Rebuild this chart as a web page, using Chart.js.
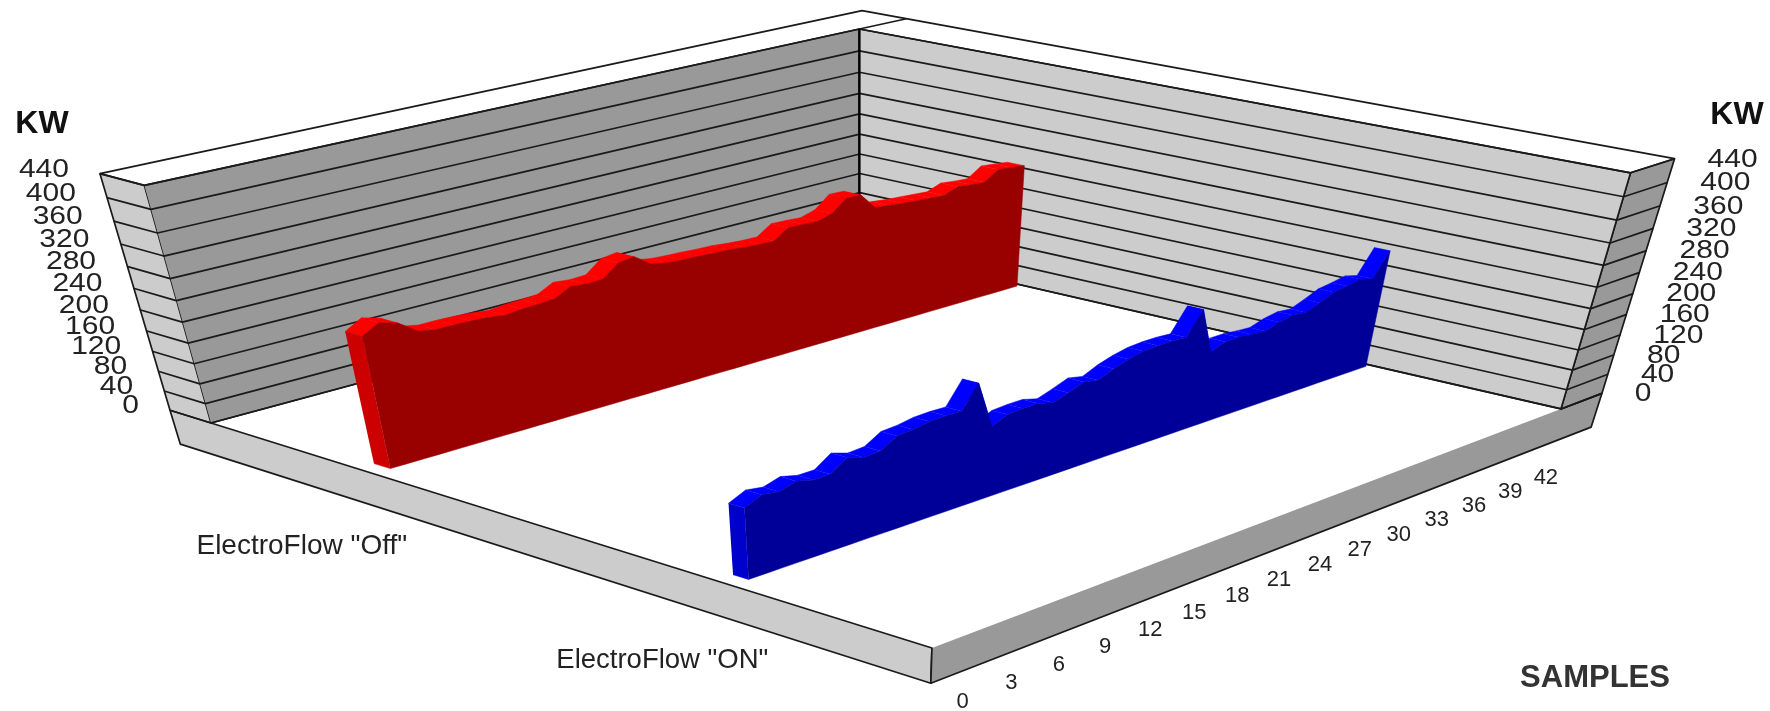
<!DOCTYPE html>
<html>
<head>
<meta charset="utf-8">
<title>ElectroFlow KW</title>
<script src="https://cdn.jsdelivr.net/npm/chart.js@4/dist/chart.umd.js"></script>
<style>
  html, body { margin: 0; padding: 0; background: #fff; }
  canvas { display: block; }
</style>
</head>
<body>
<canvas id="myChart" width="1770" height="711"></canvas>
<script>
const samples = [0,1,2,3,4,5,6,7,8,9,10,11,12,13,14,15,16,17,18,19,20,21,22,23,24,25,26,27,28,29,30,31,32,33,34,35,36,37,38,39,40,41,42,43];
const kwOff = [251,267,258,235,229,229,228,226,222,225,226,228,242,239,240,262,266,245,239,237,236,234,233,230,228,227,245,244,242,250,272,271,240,237,234,232,230,228,238,235,233,251,248,245];
const kwOn = [135,149,144,153,145,145,166,156,158,176,178,183,184,183,225,135,148,150,150,142,152,163,157,170,179,185,187,187,185,229,140,151,151,148,146,155,160,157,168,180,184,189,182,228];
const kwTicks = [0,40,80,120,160,200,240,280,320,360,400,440];
const sampleTicks = [0,3,6,9,12,15,18,21,24,27,30,33,36,39,42];
const seriesNames = ['ElectroFlow "Off"', 'ElectroFlow "ON"'];

// camera, fitted on the corners of the box: origin + u*U + v*V + h*H, homogeneous
const O = [211, 423, 1];
const U = [793, -133.5, 0.1675];
const V = [576.6, 124.6, -0.1549];
const H = [-80, -259];
const HwX = -0.0923;   // x and y need a slightly different height perspective
const HwY = -0.115;

const wallV = -0.068;   // back of left wall
const wallU = 1.079;    // back of right wall
const slabH = -0.165;   // underside of floor
const ribbonFoot = -0.01;

function project(u, v, h) {
    const w = O[2] + u * U[2] + v * V[2];
    return {
        x: (O[0] + u * U[0] + v * V[0] + h * H[0]) / (w + h * HwX),
        y: (O[1] + u * U[1] + v * V[1] + h * H[1]) / (w + h * HwY)
    };
}
const sampleU = s => 0.027 + 0.973 * s / samples[samples.length - 1];
const kwH = kw => kw / 440;

const datasets = [];
function shape(points, fill, line, width) {
    datasets.push({
        data: points.map(p => project(p[0], p[1], p[2])),
        showLine: true,
        fill: fill ? 'shape' : false,
        backgroundColor: fill || 'transparent',
        borderColor: line || fill,
        borderWidth: width === undefined ? 1 : width,
        borderJoinStyle: 'round',
        pointRadius: 0,
        pointHoverRadius: 0,
        tension: 0,
        clip: false,
        order: -datasets.length
    });
}

const LINE = '#1a1a1a';
const LW = 1.7;

// floor slab
shape([[0, wallV, 0], [0, wallV, slabH], [0, 1, slabH], [0, 1, 0], [0, 0, 0]], '#cccccc', LINE, LW);
shape([[0, 1, 0], [0, 1, slabH], [wallU, 1, slabH], [wallU, 1, 0], [1, 1, 0]], '#999999', LINE, LW);

// wall end caps
shape([[0, wallV, 1], [0, wallV, 0], [0, 0, 0], [0, 0, 1]], '#cccccc', LINE, LW);
shape([[wallU, 1, 1], [wallU, 1, 0], [1, 1, 0], [1, 1, 1]], '#999999', LINE, LW);

// inner wall faces
shape([[0, 0, 0], [1, 0, 0], [1, 0, 1], [0, 0, 1]], '#999999', LINE, LW);
shape([[1, 0, 0], [1, 1, 0], [1, 1, 1], [1, 0, 1]], '#cccccc', LINE, LW);

// top of the walls
shape([[0, 0, 1], [0, wallV, 1], [wallU, wallV, 1], [wallU, 1, 1], [1, 1, 1]], null, LINE, LW);
shape([[1, 0, 1], [wallU, 0, 1]], null, LINE, LW);

// grid lines run round both walls and caps
kwTicks.forEach(kw => {
    const h = kwH(kw);
    shape([[0, wallV, h], [0, 0, h], [1, 0, h], [1, 1, h], [wallU, 1, h]], null, LINE, LW);
});
shape([[1, 0, 0], [1, 0, 1]], null, '#000000', 2.4);

// one ribbon per series, depth between vBack and vFront
function ribbon(values, vBack, vFront, topColor, sideColor, frontColor) {
    const back = samples.map((s, i) => [sampleU(s), vBack, kwH(values[i])]);
    const front = samples.map((s, i) => [sampleU(s), vFront, kwH(values[i])]);
    const floor = samples.map(s => [sampleU(s), vFront, ribbonFoot]);
    // top surface goes quad by quad so a spike keeps its flat top
    for (let i = 0; i < samples.length - 1; i++) {
        shape([back[i], back[i + 1], front[i + 1], front[i]], topColor, topColor, 0.5);
    }
    shape([[sampleU(0), vBack, ribbonFoot], [sampleU(0), vFront, ribbonFoot], front[0], back[0]], sideColor, sideColor, 0.5);
    shape(front.concat(floor.reverse()), frontColor, frontColor, 0.5);
}
ribbon(kwOff, 0.225, 0.25, '#ff0000', '#cc0000', '#990000');
ribbon(kwOn, 0.73, 0.75, '#0000ff', '#0000cc', '#000099');

const axisText = {
    id: 'axisText',
    afterDatasetsDraw(chart) {
        const { ctx, scales: { x, y } } = chart;
        function put(str, pt, dx, dy, font, align, color, stretch) {
            ctx.save();
            ctx.font = font;
            ctx.fillStyle = color;
            ctx.textAlign = align;
            ctx.textBaseline = 'middle';
            ctx.translate(x.getPixelForValue(pt.x) + dx, y.getPixelForValue(pt.y) + dy);
            ctx.scale(stretch || 1, 1);
            ctx.fillText(str, 0, 0);
            ctx.restore();
        }
        const family = '"Liberation Sans", Arial, sans-serif';
        kwTicks.forEach(kw => {
            put(String(kw), project(0, wallV, kwH(kw)), -31, -4, '25px ' + family, 'right', '#222', 1.2);
            put(String(kw), project(wallU, 1, kwH(kw)), 33, 1, '25px ' + family, 'left', '#222', 1.2);
        });
        sampleTicks.forEach(s => {
            put(String(s), project(sampleU(s), 1, slabH), 12 - 5 * s / 42, 26 + 5 * s / 42, '22px ' + family, 'center', '#222');
        });
        put(seriesNames[0], project(0, 0.25, slabH), 30, 39, '28px ' + family, 'right', '#222');
        put(seriesNames[1], project(0, 0.75, slabH), 38, 41, '27.5px ' + family, 'right', '#222');
        put('KW', { x: 42, y: 124 }, 0, 0, 'bold 32px ' + family, 'center', '#111');
        put('KW', { x: 1737, y: 115 }, 0, 0, 'bold 32px ' + family, 'center', '#111');
        put('SAMPLES', { x: 1595, y: 678 }, 0, 0, 'bold 31px ' + family, 'center', '#333');
    }
};

new Chart(document.getElementById('myChart'), {
    type: 'scatter',
    data: { datasets: datasets },
    plugins: [axisText],
    options: {
        responsive: false,
        animation: false,
        layout: { padding: 0 },
        plugins: { legend: { display: false }, tooltip: { enabled: false }, title: { display: false } },
        scales: {
            x: { type: 'linear', min: 0, max: 1770, display: false },
            y: { type: 'linear', min: 0, max: 711, reverse: true, display: false }
        }
    }
});
</script>
</body>
</html>
